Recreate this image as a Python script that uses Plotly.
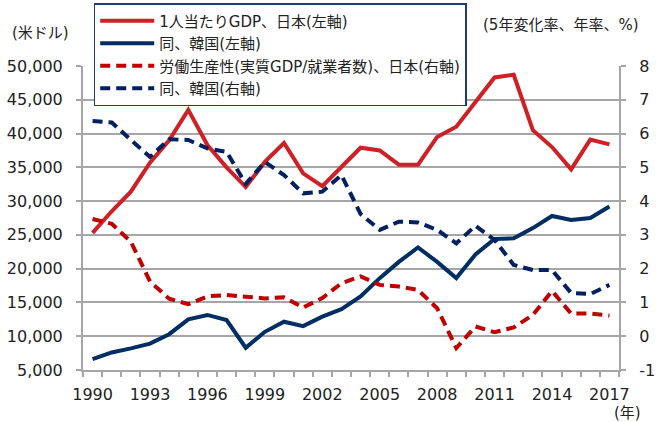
import plotly.graph_objects as go

years = list(range(1990, 2018))

gdp_japan = [25300, 28500, 31400, 35700, 39000, 43500, 38300, 35000, 32100, 35800,
             38600, 34100, 32200, 35000, 37900, 37500, 35400, 35400, 39500, 41000,
             44700, 48300, 48700, 40500, 38000, 34700, 39100, 38400]
gdp_korea = [6600, 7600, 8200, 8900, 10300, 12500, 13150, 12400, 8300, 10650,
             12150, 11500, 12900, 14000, 15900, 18600, 21000, 23150, 21000, 18600,
             22100, 24400, 24500, 26000, 27800, 27200, 27500, 29200]
prod_japan = [3.47, 3.33, 2.80, 1.62, 1.11, 0.95, 1.18, 1.22, 1.17, 1.12,
              1.15, 0.85, 1.13, 1.57, 1.77, 1.52, 1.47, 1.37, 0.83, -0.35,
              0.29, 0.12, 0.26, 0.63, 1.34, 0.67, 0.67, 0.61]
prod_korea = [6.37, 6.33, 5.81, 5.31, 5.83, 5.81, 5.56, 5.46, 4.51, 5.16,
              4.77, 4.23, 4.28, 4.77, 3.62, 3.15, 3.39, 3.37, 3.15, 2.75,
              3.27, 2.85, 2.11, 1.96, 1.96, 1.28, 1.25, 1.52]

names = ["1人当たりGDP、日本(左軸)", "同、韓国(左軸)",
         "労働生産性(実質GDP/就業者数)、日本(右軸)", "同、韓国(右軸)"]

label_years = years[::3]
left_ticks = list(range(5000, 50001, 5000))
right_ticks = list(range(-1, 9))

RED = "#CF2026"
RED_D = "#C00000"
NAVY = "#002D62"
NAVY_D = "#002060"
GRID = "#A6A6A6"
NUMFONT = "DejaVu Sans, Verdana, sans-serif"
JPFONT = "DejaVu Sans, Noto Sans CJK JP, sans-serif"

fig = go.Figure()
fig.add_trace(go.Scatter(x=years, y=gdp_japan, name=names[0], mode="lines",
                         line=dict(color=RED, width=4)))
fig.add_trace(go.Scatter(x=years, y=gdp_korea, name=names[1], mode="lines",
                         line=dict(color=NAVY, width=4)))
fig.add_trace(go.Scatter(x=years, y=prod_japan, name=names[2], mode="lines", yaxis="y2",
                         line=dict(color=RED_D, width=4, dash="10px,6px")))
fig.add_trace(go.Scatter(x=years, y=prod_korea, name=names[3], mode="lines", yaxis="y2",
                         line=dict(color=NAVY_D, width=4, dash="10px,6px")))

fig.update_layout(
    width=664, height=422,
    margin=dict(l=83, r=45, t=66, b=52, autoexpand=False),
    paper_bgcolor="white", plot_bgcolor="white",
    font=dict(family=NUMFONT, size=16, color="#222222"),
    showlegend=True,
    legend=dict(x=0.02, y=1.207, xanchor="left", yanchor="top",
                bgcolor="white", bordercolor="#1F3A7A", borderwidth=1.5,
                font=dict(family=JPFONT, size=15, color="#222222"),
                tracegroupgap=0, itemwidth=54),
    xaxis=dict(range=[years[0] - 0.5, years[-1] + 0.5],
               tickmode="array", tickvals=label_years,
               ticktext=[str(y) for y in label_years],
               ticks="", showgrid=False, zeroline=False,
               showline=True, linecolor=GRID, linewidth=2,
               ticklabelstandoff=9,
               minor=dict(tickmode="array",
                          tickvals=[y - 0.5 for y in years] + [years[-1] + 0.5],
                          ticks="outside", ticklen=5, tickcolor=GRID, tickwidth=1.5,
                          showgrid=False),
               tickfont=dict(size=16)),
    yaxis=dict(range=[left_ticks[0], left_ticks[-1]], tickmode="array",
               tickvals=left_ticks, tickformat=",d",
               showgrid=True, gridcolor=GRID, gridwidth=1.5, zeroline=False,
               showline=True, linecolor=GRID, linewidth=2,
               ticks="outside", ticklen=5, tickcolor=GRID, tickwidth=1.5,
               ticklabelstandoff=10, tickfont=dict(size=16)),
    yaxis2=dict(range=[right_ticks[0], right_ticks[-1]], overlaying="y", side="right",
                tickmode="array", tickvals=right_ticks,
                ticktext=[str(v) for v in right_ticks],
                showgrid=False, zeroline=False,
                showline=True, linecolor=GRID, linewidth=2,
                ticks="outside", ticklen=5, tickcolor=GRID, tickwidth=1.5,
                ticklabelstandoff=10, tickfont=dict(size=16)),
    annotations=[
        dict(text="(米ドル)", xref="paper", yref="paper", x=-0.08, y=1.11,
             xanchor="center", yanchor="middle", showarrow=False,
             font=dict(family=JPFONT, size=15, color="#222222")),
        dict(text="(5年変化率、年率、%)", xref="paper", yref="paper", x=0.892, y=1.135,
             xanchor="center", yanchor="middle", showarrow=False,
             font=dict(family=JPFONT, size=15, color="#222222")),
        dict(text="(年)", xref="paper", yref="paper", x=1.016, y=-0.14,
             xanchor="center", yanchor="middle", showarrow=False,
             font=dict(family=JPFONT, size=15, color="#222222")),
    ],
)

fig.write_html("out.html", config={"displayModeBar": False},
               post_script="document.body.style.margin='0';document.body.style.padding='0';")
